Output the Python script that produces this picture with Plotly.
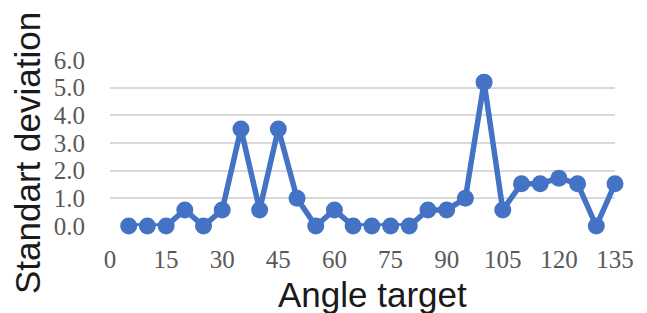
import plotly.graph_objects as go

angle_target = [5, 10, 15, 20, 25, 30, 35, 40, 45, 50, 55, 60, 65, 70,
                75, 80, 85, 90, 95, 100, 105, 110, 115, 120, 125, 130, 135]
std_dev = [0, 0, 0, 0.58, 0, 0.58, 3.51, 0.58, 3.51, 1.0, 0, 0.58, 0, 0,
           0, 0, 0.58, 0.58, 1.0, 5.2, 0.58, 1.53, 1.53, 1.73, 1.53, 0, 1.53]
x_ticks = [0, 15, 30, 45, 60, 75, 90, 105, 120, 135]
y_ticks = [0, 1, 2, 3, 4, 5, 6]

fig = go.Figure()
fig.add_trace(go.Scatter(
    x=angle_target, y=std_dev, mode="lines+markers",
    line=dict(color="#4472C4", width=5.5),
    marker=dict(color="#4472C4", size=17),
    cliponaxis=False, showlegend=False,
))

tick_font = dict(family="Liberation Serif", size=25, color="#595959")
title_font = dict(family="Liberation Sans", size=35, color="#1a1a1a")

# page has an 8px body margin, so the figure is offset by 8px
fig.update_layout(
    width=639, height=305,
    margin=dict(l=102, r=32, t=52, b=87),
    paper_bgcolor="white", plot_bgcolor="white",
    xaxis=dict(
        range=[0, 135], tickvals=x_ticks, ticktext=[str(v) for v in x_ticks],
        showgrid=False, zeroline=False, showline=False, automargin=False,
        tickfont=tick_font, ticklabelstandoff=16,
    ),
    yaxis=dict(
        range=[0, 6], tickvals=y_ticks, ticktext=[f"{v:.1f}" for v in y_ticks],
        showgrid=True, gridcolor="#D9D9D9", gridwidth=1.5,
        zeroline=False, showline=False, automargin=False,
        tickfont=tick_font, ticklabelstandoff=24,
    ),
    annotations=[
        dict(text="Angle target", xref="paper", yref="paper",
             x=(372 - 110) / 505, y=-(294 - 226) / 166,
             xanchor="center", yanchor="middle", showarrow=False, font=title_font),
        dict(text="Standart deviation", xref="paper", yref="paper",
             x=-(110 - 27) / 505, y=(226 - 153) / 166, textangle=-90,
             xanchor="center", yanchor="middle", showarrow=False, font=title_font),
    ],
)

fig.write_html("out.html")
